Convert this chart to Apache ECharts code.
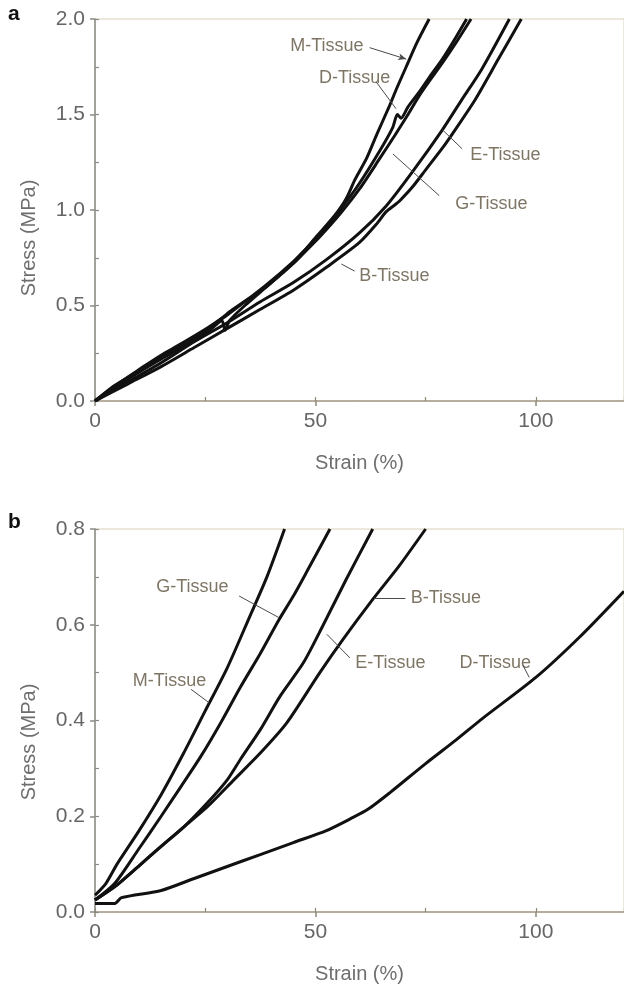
<!DOCTYPE html>
<html>
<head>
<meta charset="utf-8">
<script src="https://cdn.jsdelivr.net/npm/echarts@6/dist/echarts.min.js"></script>
<style>
html,body{margin:0;padding:0;background:#fff;}
#chart{width:624px;height:989px;}
</style>
</head>
<body>
<div id="chart"></div>
<script>
// ---------- Data (strain %, stress MPa) ----------
// Panel a
const aM = [[0,0],[3.75,0.065],[7.5,0.124],[11,0.18],[15,0.24],[18.8,0.29],[22.5,0.34],[26,0.39],[28.5,0.43],[31,0.475],[33.8,0.52],[36.5,0.56],[39,0.6],[41,0.64],[43.5,0.69],[46,0.75],[48,0.8],[50,0.855],[52.5,0.92],[55,0.99],[57,1.06],[59,1.16],[61.6,1.27],[64,1.4],[66.8,1.545],[68.5,1.64],[70.6,1.75],[73,1.875],[75.8,2.0]];
const aD = [[0,0],[3.75,0.07],[7.5,0.125],[11,0.175],[15,0.23],[18.8,0.28],[22.5,0.33],[26,0.385],[30,0.45],[34,0.52],[39,0.61],[45,0.73],[48,0.8],[51,0.87],[55.6,1.0],[60,1.14],[64.6,1.31],[67.5,1.43],[68.6,1.5],[69.4,1.48],[71,1.54],[73.6,1.62],[76,1.7],[78.8,1.79],[81.5,1.89],[84.3,2.0]];
const aG = [[0,0],[3.75,0.06],[7.5,0.115],[11,0.165],[15,0.22],[18.8,0.27],[22.5,0.32],[26,0.37],[28.8,0.42],[29.5,0.37],[30.5,0.42],[34,0.5],[39,0.6],[45,0.72],[48,0.79],[51,0.86],[55.6,0.98],[60,1.11],[64.6,1.27],[68,1.39],[71,1.5],[73.6,1.6],[76,1.68],[78.8,1.77],[82,1.88],[85.3,2.0]];
const aE = [[0,0],[7.5,0.1],[15,0.2],[22.5,0.31],[30,0.41],[37.5,0.52],[45,0.62],[52.5,0.74],[60,0.88],[66,1.02],[72,1.2],[78.8,1.42],[83,1.57],[87.8,1.74],[94,2.0]];
const aB = [[0,0],[7.5,0.09],[15,0.18],[22.5,0.28],[30,0.38],[37.5,0.48],[45,0.58],[52.5,0.7],[60,0.83],[64,0.93],[66,0.99],[68.2,1.03],[69.2,1.05],[72,1.12],[75,1.21],[79,1.33],[82,1.43],[86.3,1.58],[91.5,1.79],[96.7,2.0]];
// Panel b
const bM = [[0,0.035],[2.5,0.06],[5,0.1],[10,0.17],[15,0.245],[20,0.33],[25,0.42],[30,0.51],[35,0.615],[39,0.7],[43,0.8]];
const bG = [[0,0.025],[4.5,0.06],[9.8,0.13],[15,0.2],[19.5,0.262],[24,0.325],[28.5,0.395],[33,0.47],[37.5,0.54],[41.7,0.61],[45,0.66],[48,0.71],[53.3,0.8]];
const bE = [[0,0.025],[4.5,0.053],[9.8,0.095],[15,0.137],[20.3,0.179],[25.5,0.228],[30,0.276],[33,0.319],[37.5,0.381],[42,0.451],[47.3,0.521],[51.8,0.6],[57,0.695],[63,0.8]];
const bB = [[0,0.025],[4.5,0.053],[9.8,0.095],[15,0.137],[20.3,0.179],[25.5,0.22],[31.5,0.276],[37.5,0.332],[43.5,0.395],[51,0.5],[56.3,0.57],[63,0.653],[69,0.723],[75,0.8]];
const bD = [[0,0.018],[4.5,0.018],[6,0.03],[15,0.045],[22.5,0.07],[30,0.095],[37.5,0.12],[45,0.145],[52.5,0.17],[58,0.195],[62,0.215],[67,0.25],[75,0.31],[82,0.36],[88,0.405],[100,0.49],[110,0.575],[120,0.67]];

// Axis settings (values)
const strainMax = 120, strainStep = 50, strainMinor = 25;
const stressMaxA = 2.0, stressStepA = 0.5, stressMinorA = 0.25;
const stressMaxB = 0.8, stressStepB = 0.2, stressMinorB = 0.1;

// Annotations: [text, strain, stress]
const labelsA = [['M-Tissue',52.6,1.86],['D-Tissue',58.9,1.69],['E-Tissue',93.1,1.29],['G-Tissue',89.9,1.03],['B-Tissue',67.9,0.656]];
// pointer lines: [x1,y1,x2,y2,arrowhead]
const pointersA = [[62.3,1.85,70.6,1.79,1],[63.8,1.67,68.3,1.53,0],[83.3,1.32,78.8,1.42,0],[78.1,1.075,67.6,1.293,0],[58.9,0.68,55.9,0.717,0]];
const labelsB = [['G-Tissue',22.1,0.678],['M-Tissue',16.9,0.482],['B-Tissue',79.6,0.655],['E-Tissue',67,0.521],['D-Tissue',90.8,0.52]];
const pointersB = [[32.7,0.66,41.7,0.615,0],[21.8,0.465,25.9,0.437,0],[70.4,0.655,63.3,0.655,0],[57.8,0.531,52.6,0.58,0],[97.1,0.515,98.5,0.49,0]];

// ---------- Chart ----------
const FONT = '"Liberation Sans", Arial, sans-serif';
const chart = echarts.init(document.getElementById('chart'), null, {renderer:'canvas'});

const grids = [
  {left:95, top:19, height:382, right:-4},
  {left:95, top:529, height:383, right:-4}
];

function mainX(gi){
  return {gridIndex:gi, type:'value', min:0, max:strainMax, interval:strainStep,
    name:'Strain (%)', nameLocation:'middle', nameGap:52,
    nameTextStyle:{fontFamily:FONT, fontSize:20, color:'#6e6e6e'},
    axisLine:{show:true, lineStyle:{color:'#a49c8a', width:1.5}},
    axisTick:{show:true, inside:false, length:5, lineStyle:{color:'#8e8878', width:1.5}},
    axisLabel:{fontFamily:FONT, fontSize:21, color:'#666', margin:10, showMaxLabel:false},
    splitLine:{show:false}};
}
function minorX(gi){
  return {gridIndex:gi, type:'value', min:0, max:strainMax, interval:strainMinor, position:'bottom',
    axisLine:{show:false}, axisLabel:{show:false}, splitLine:{show:false},
    axisTick:{show:true, inside:true, length:4, lineStyle:{color:'#8e8878', width:1.2}}};
}
function mainY(gi, max, step){
  return {gridIndex:gi, type:'value', min:0, max:max, interval:step,
    axisLine:{show:true, lineStyle:{color:'#8a8a86', width:1.5}},
    axisTick:{show:true, inside:false, length:5, lineStyle:{color:'#8a8a86', width:1.5}},
    axisLabel:{fontFamily:FONT, fontSize:21, color:'#666', margin:10, formatter:v=>v.toFixed(1)},
    splitLine:{show:false}};
}
function minorY(gi, max, step){
  return {gridIndex:gi, type:'value', min:0, max:max, interval:step, position:'left',
    axisLine:{show:false}, axisLabel:{show:false}, splitLine:{show:false},
    axisTick:{show:true, inside:true, length:4, lineStyle:{color:'#8a8a86', width:1.2}}};
}

function curve(name, data, xi, yi){
  return {name:name, type:'line', xAxisIndex:xi, yAxisIndex:yi, data:data,
    showSymbol:false, symbol:'none', smooth:0.25, clip:true,
    lineStyle:{color:'#111', width:3}, silent:true};
}
function annot(labels, pointers, xi, yi){
  return {type:'scatter', xAxisIndex:xi, yAxisIndex:yi, symbolSize:0, silent:true,
    data:labels.map(l=>({name:l[0], value:[l[1], l[2]]})),
    label:{show:true, position:'inside', formatter:p=>p.name,
      fontFamily:FONT, fontSize:18, color:'#5e533f'},
    markLine:{silent:true, animation:false, symbol:['none','none'],
      lineStyle:{color:'#4a4a4a', width:1, type:'solid'}, label:{show:false},
      data:pointers.map(p=>[
        {coord:[p[0],p[1]], symbol:'none'},
        {coord:[p[2],p[3]], symbol:p[4]?'arrow':'none', symbolSize:[5,8]}
      ])}
  };
}

const option = {
  animation:false,
  backgroundColor:'#fff',
  grid: grids.map(g=>Object.assign({show:true, borderColor:'#d8d0bc', borderWidth:1, backgroundColor:'transparent'}, g)),
  xAxis:[mainX(0), minorX(0), mainX(1), minorX(1)],
  yAxis:[mainY(0,stressMaxA,stressStepA), minorY(0,stressMaxA,stressMinorA),
         mainY(1,stressMaxB,stressStepB), minorY(1,stressMaxB,stressMinorB)],
  series:[
    curve('M-Tissue', aM, 0, 0), curve('D-Tissue', aD, 0, 0), curve('G-Tissue', aG, 0, 0),
    curve('E-Tissue', aE, 0, 0), curve('B-Tissue', aB, 0, 0),
    annot(labelsA, pointersA, 0, 0),
    curve('M-Tissue', bM, 2, 2), curve('G-Tissue', bG, 2, 2), curve('E-Tissue', bE, 2, 2),
    curve('B-Tissue', bB, 2, 2), curve('D-Tissue', bD, 2, 2),
    annot(labelsB, pointersB, 2, 2)
  ],
  graphic:[
    {type:'text', left:8, top:4, style:{text:'a', font:'bold 21px '+FONT, fill:'#111'}},
    {type:'text', left:8, top:512, style:{text:'b', font:'bold 21px '+FONT, fill:'#111'}},
    {type:'text', x:29, y:238, rotation:Math.PI/2,
      style:{text:'Stress (MPa)', font:'20px '+FONT, fill:'#6e6e6e', align:'center', verticalAlign:'middle'}},
    {type:'text', x:29, y:742, rotation:Math.PI/2,
      style:{text:'Stress (MPa)', font:'20px '+FONT, fill:'#6e6e6e', align:'center', verticalAlign:'middle'}}
  ]
};
chart.setOption(option);
</script>
</body>
</html>
